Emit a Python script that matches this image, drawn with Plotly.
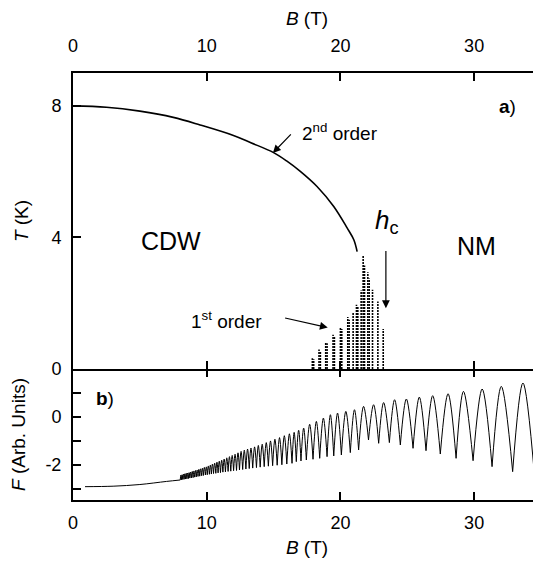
import plotly.graph_objects as go

# ---- panel a : phase diagram ----
# 2nd order line T_c(B)
Tc_B = [0, 2.5, 5, 7.5, 9.5, 12, 13.3, 15, 16, 17, 18.25, 19.5, 20.5, 21.0, 21.25]
Tc_T = [8.0, 7.96, 7.84, 7.65, 7.42, 7.10, 6.88, 6.58, 6.32, 6.01, 5.55, 4.94, 4.29, 3.93, 3.57]

# 1st order region (dotted verticals from T=0 up to top)
first_B = [17.9, 18.0, 18.4, 18.5, 18.9, 19.0, 19.45, 19.55, 20.0, 20.1, 20.55, 20.65,
           20.95, 21.2, 21.3, 21.55, 21.7, 21.8, 22.05, 22.15, 22.4, 22.8, 23.2]
first_T = [0.33, 0.30, 0.59, 0.55, 0.81, 0.78, 1.04, 1.00, 1.28, 1.22, 1.58, 1.50,
           1.70, 1.95, 1.90, 2.39, 3.45, 3.15, 2.94, 2.75, 2.41, 2.05, 1.22]

# ---- panel b : free energy ----
F_start_B = [0.9, 3.0, 5.0, 7.0, 8.02]
F_start_F = [-2.92, -2.90, -2.83, -2.70, -2.64]

trough_B = [8.02, 8.11, 8.21, 8.31, 8.42, 8.52, 8.63, 8.74, 8.86, 8.98,
            9.10, 9.22, 9.35, 9.48, 9.62, 9.75, 9.90, 10.04, 10.20, 10.35,
            10.51, 10.68, 10.85, 11.03, 11.21, 11.40, 11.60, 11.80, 12.01, 12.23,
            12.45, 12.69, 12.93, 13.18, 13.44, 13.72, 14.00, 14.30, 14.61, 14.93,
            15.27, 15.62, 15.99, 16.38, 16.70, 17.05, 17.45, 17.95, 18.45, 19.00,
            19.50, 20.07, 20.74, 21.36, 22.10, 22.86, 23.66, 24.48, 25.43, 26.40,
            27.47, 28.65, 29.92, 31.34, 32.88, 34.53]
trough_F = [-2.64, -2.63, -2.62, -2.61, -2.60, -2.59, -2.58, -2.56, -2.55, -2.54,
            -2.52, -2.51, -2.49, -2.48, -2.46, -2.45, -2.43, -2.42, -2.40, -2.39,
            -2.37, -2.36, -2.34, -2.33, -2.31, -2.30, -2.28, -2.27, -2.25, -2.24,
            -2.22, -2.20, -2.18, -2.16, -2.14, -2.12, -2.10, -2.08, -2.06, -2.04,
            -2.02, -2.00, -1.97, -1.94, -1.87, -1.84, -1.80, -1.77, -1.73, -1.66,
            -1.63, -1.59, -1.49, -1.38, -0.96, -1.10, -1.07, -1.17, -1.31, -1.41,
            -1.55, -1.73, -1.83, -2.08, -2.29, -2.57]
peak_B = [8.065, 8.16, 8.26, 8.365, 8.47, 8.575, 8.685, 8.80, 8.92, 9.04,
          9.16, 9.285, 9.415, 9.55, 9.685, 9.825, 9.97, 10.12, 10.275, 10.43,
          10.595, 10.765, 10.94, 11.12, 11.305, 11.50, 11.70, 11.905, 12.12, 12.34,
          12.57, 12.81, 13.055, 13.31, 13.58, 13.86, 14.15, 14.455, 14.77, 15.10,
          15.445, 15.805, 16.185, 16.54, 16.875, 17.25, 17.70, 18.20, 18.725, 19.25,
          19.785, 20.405, 21.05, 21.73, 22.48, 23.23, 24.05, 24.93, 25.9, 26.9,
          28.05, 29.2, 30.6, 32.03, 33.65]
peak_F = [-2.44, -2.42, -2.40, -2.38, -2.36, -2.35, -2.33, -2.31, -2.28, -2.26,
          -2.24, -2.22, -2.19, -2.17, -2.14, -2.11, -2.09, -2.05, -2.01, -1.97,
          -1.93, -1.89, -1.85, -1.81, -1.76, -1.71, -1.66, -1.61, -1.56, -1.50,
          -1.44, -1.39, -1.34, -1.30, -1.25, -1.19, -1.14, -1.07, -1.00, -0.93,
          -0.86, -0.78, -0.70, -0.64, -0.55, -0.46, -0.30, -0.18, -0.04, 0.10,
          0.17, 0.24, 0.31, 0.45, 0.52, 0.61, 0.73, 0.76, 0.84, 0.90,
          0.98, 1.08, 1.18, 1.29, 1.43]
F_end_B = [34.53, 34.95]
F_end_F = [-2.57, -1.90]

FONT = "Liberation Sans, Arial, sans-serif"

# build arches (sharp cusps at troughs, rounded tops)
archX, archY = list(F_start_B) + [None], list(F_start_F) + [None]
for i in range(len(peak_B)):
    archX += [trough_B[i], peak_B[i], trough_B[i + 1], None]
    archY += [trough_F[i], peak_F[i], trough_F[i + 1], None]
archX += F_end_B
archY += F_end_F

firstX, firstY = [], []
for b, t in zip(first_B, first_T):
    firstX += [b, b, None]
    firstY += [0, t, None]

fig = go.Figure()
fig.add_trace(go.Scatter(x=Tc_B, y=Tc_T, mode='lines', xaxis='x2', yaxis='y2',
                         line=dict(color='black', width=1.6, shape='spline')))
fig.add_trace(go.Scatter(x=firstX, y=firstY, mode='lines', xaxis='x2', yaxis='y2',
                         line=dict(color='black', width=1.6, dash='2px,1px')))
fig.add_trace(go.Scatter(x=archX, y=archY, mode='lines', xaxis='x', yaxis='y',
                         line=dict(color='black', width=1, shape='spline')))

split = 131 / 427.0
axcommon = dict(showline=True, linecolor='black', linewidth=2, ticks='inside',
                ticklen=8, tickwidth=2, tickcolor='black', showgrid=False,
                zeroline=False, automargin=False,
                tickfont=dict(family=FONT, size=18, color='black'))
tickonly = dict(showline=False, showgrid=False, zeroline=False, ticks='inside',
                ticklen=8, tickwidth=2, tickcolor='black', showticklabels=False,
                automargin=False)

# page body adds 8px offset, so margins are shifted by that amount
fig.update_layout(
    width=541, height=567,
    margin=dict(l=65, r=8, t=65, b=75, autoexpand=False),
    paper_bgcolor='white', plot_bgcolor='white',
    showlegend=False,
    font=dict(family=FONT, color='black'),
    xaxis=dict(axcommon, domain=[0, 1], range=[0, 35], anchor='y', side='bottom',
               tickvals=[0, 10, 20, 30], ticklabelstandoff=5,
               title=dict(text='<i>B</i> (T)', font=dict(size=19), standoff=9)),
    xaxis3=dict(tickonly, overlaying='x', side='top', anchor='y', range=[0, 35],
                tickvals=[0, 10, 20, 30]),
    yaxis=dict(axcommon, domain=[0, split], range=[-3.48, 2.02], anchor='x',
               tickvals=[-3, -2, -1, 0, 1], ticktext=['', '-2', '', '0', ''],
               ticklabelstandoff=6,
               title=dict(text='<i>F</i> (Arb. Units)', font=dict(size=19), standoff=18)),
    yaxis3=dict(tickonly, overlaying='y', side='right', anchor='x', range=[-3.48, 2.02],
                tickvals=[-3, -2, -1, 0, 1]),
    xaxis2=dict(axcommon, domain=[0, 1], range=[0, 35], anchor='y2', side='top',
                mirror='ticks', tickvals=[0, 10, 20, 30], ticklabelstandoff=12,
                title=dict(text='<i>B</i> (T)', font=dict(size=19), standoff=9)),
    yaxis2=dict(axcommon, domain=[split, 1], range=[0, 9.0], anchor='x2',
                tickvals=[0, 4, 8], ticklabelstandoff=6,
                title=dict(text='<i>T</i> (K)', font=dict(size=19), standoff=18)),
    yaxis4=dict(tickonly, overlaying='y2', side='right', anchor='x2', range=[0, 9.0],
                tickvals=[0, 4, 8]),
)
# empty traces so the extra tick axes render
fig.add_trace(go.Scatter(x=[None], y=[None], xaxis='x', yaxis='y3', showlegend=False))
fig.add_trace(go.Scatter(x=[None], y=[None], xaxis='x3', yaxis='y', showlegend=False))
fig.add_trace(go.Scatter(x=[None], y=[None], xaxis='x2', yaxis='y4', showlegend=False))

ann = []
def txt(x, y, s, size, ref='2', xanchor='center'):
    ann.append(dict(x=x, y=y, xref='x' + ref if ref == '2' else 'x',
                    yref='y' + ref if ref == '2' else 'y', text=s, showarrow=False,
                    xanchor=xanchor, yanchor='middle',
                    font=dict(family=FONT, size=size, color='black')))

def arrow(x0, y0, x1, y1):
    ann.append(dict(x=x1, y=y1, ax=x0, ay=y0, xref='x2', yref='y2', axref='x2',
                    ayref='y2', text='', showarrow=True, arrowhead=2, arrowsize=1.3,
                    arrowwidth=1.2, arrowcolor='black'))

txt(7.3, 3.9, 'CDW', 25)
txt(30.2, 3.75, 'NM', 25)
txt(23.5, 4.5, '<i>h</i><sub>c</sub>', 26)
txt(17.0, 7.2, '2<sup>nd</sup> order', 19, xanchor='left')
txt(8.7, 1.5, '1<sup>st</sup> order', 19, xanchor='left')
txt(33.3, 7.97, '<b>a</b>)', 19, xanchor='right')
txt(1.6, 0.77, '<b>b</b>)', 19, ref='', xanchor='left')
arrow(16.4, 7.18, 14.95, 6.57)
arrow(15.75, 1.56, 19.05, 1.26)
arrow(23.4, 3.63, 23.4, 1.85)
fig.update_layout(annotations=ann)

fig.write_html("out.html")
